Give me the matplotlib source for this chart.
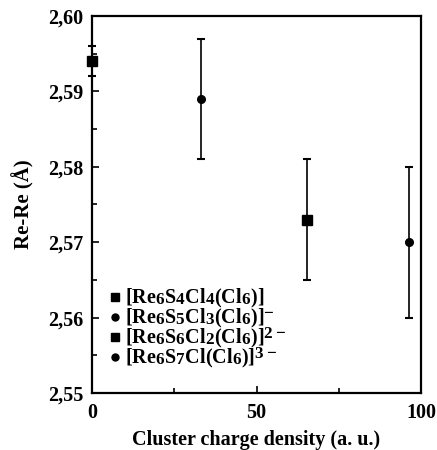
import matplotlib
matplotlib.use("Agg")
import matplotlib.pyplot as plt
import matplotlib._mathtext as mt
from matplotlib.ticker import FuncFormatter, MultipleLocator

plt.rcParams["font.family"] = ["Liberation Serif", "DejaVu Serif"]
plt.rcParams["font.weight"] = "bold"
plt.rcParams["mathtext.fontset"] = "custom"
plt.rcParams["mathtext.rm"] = "Liberation Serif:bold"
plt.rcParams["mathtext.it"] = "Liberation Serif:bold"
plt.rcParams["mathtext.bf"] = "Liberation Serif:bold"
# subscripts in the original are nearly full size and barely lowered
mt.SHRINK_FACTOR = 0.85
mt.FontConstantsBase.sub1 = 0.12
mt.FontConstantsBase.sub2 = 0.25
mt.FontConstantsBase.sup1 = 0.45

# cluster charge density (a. u.), Re-Re distance (Å), error
charge = [0, 33, 65.3, 96.3]
re_re = [2.594, 2.589, 2.573, 2.570]
err = [0.002, 0.008, 0.008, 0.010]
markers = ["s", "o", "s", "o"]
labels = [
    r"[Re$_6$S$_4$Cl$_4$(Cl$_6$)]",
    r"[Re$_6$S$_5$Cl$_3$(Cl$_6$)]$^{-}$",
    r"[Re$_6$S$_6$Cl$_2$(Cl$_6$)]$^{2-}$",
    r"[Re$_6$S$_7$Cl(Cl$_6$)]$^{3-}$",
]

fig = plt.figure(figsize=(4.37, 4.5), dpi=100)
ax = fig.add_axes([92 / 437, 57 / 450, 329 / 437, 377 / 450])

for x, y, e, m in zip(charge, re_re, err, markers):
    ax.errorbar(x, y, yerr=e, fmt=m, color="black", ms=6.5 if m == "s" else 5.5,
                elinewidth=1.2, capsize=3, capthick=1.5, clip_on=False)

# hand-placed legend: even row spacing despite mixed sub/superscripts
row_y0, row_step = 0.2546, 0.053
for i, (m, lab) in enumerate(zip(markers, labels)):
    ry = row_y0 - i * row_step
    ax.plot([0.07], [ry], marker=m, color="black", ms=5.5 if m == "s" else 5,
            ls="none", transform=ax.transAxes)
    ax.text(0.10, ry - 0.016, lab, transform=ax.transAxes, fontsize=14.5, fontweight="bold",
            va="baseline", ha="left")

ax.set_xlim(0, 100)
ax.set_ylim(2.55, 2.60)
ax.xaxis.set_major_locator(MultipleLocator(50))
ax.xaxis.set_minor_locator(MultipleLocator(25))
ax.yaxis.set_major_locator(MultipleLocator(0.01))
ax.yaxis.set_minor_locator(MultipleLocator(0.005))
ax.yaxis.set_major_formatter(FuncFormatter(lambda v, p: f"{v:.2f}".replace(".", ",")))
ax.tick_params(which="both", direction="in", top=False, right=False, labelsize=14.5, width=1.2)
ax.tick_params(which="major", length=5)
ax.tick_params(which="minor", length=3.5)
ax.tick_params(axis="x", pad=7)
ax.tick_params(axis="y", pad=6)
for s in ax.spines.values():
    s.set_linewidth(1.6)

ax.set_xlabel("Cluster charge density (a. u.)", fontsize=14.5, fontweight="bold", labelpad=5)
ax.set_ylabel("Re-Re (Å)", fontsize=15, fontweight="bold", labelpad=10)

fig.savefig("out.png", dpi=100)
